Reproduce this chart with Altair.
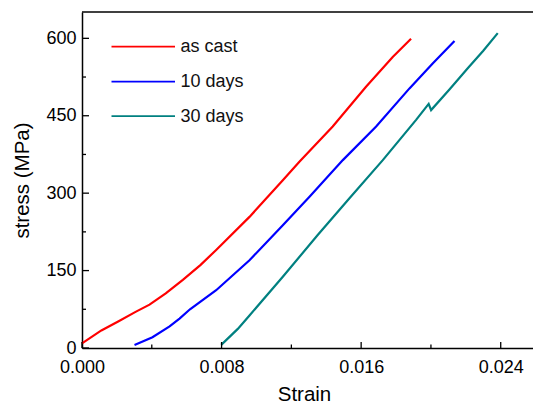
import altair as alt
import pandas as pd

# ---- data ----
series_names = ["as cast", "10 days", "30 days"]
series_colors = ["#FF0000", "#0000FF", "#008080"]

ascast_strain = [0.0, 0.00111, 0.00210, 0.00307, 0.00387, 0.00480, 0.00578, 0.00680,
                 0.00769, 0.00960, 0.01151, 0.01246, 0.01437, 0.01628, 0.01781, 0.01886]
ascast_stress = [9, 34, 52, 70, 84, 106, 132, 161,
                 190, 254, 325, 361, 429, 506, 564, 599]

d10_strain = [0.00301, 0.00404, 0.00502, 0.00559, 0.00619, 0.00769, 0.00960, 0.01151,
              0.01304, 0.01495, 0.01686, 0.01877, 0.02010, 0.02135]
d10_stress = [6, 21, 42, 57, 75, 112, 170, 238,
              293, 364, 429, 503, 551, 595]

d30_strain = [0.00798, 0.00893, 0.00960, 0.01151, 0.01351, 0.01533, 0.01724, 0.01915,
              0.01987, 0.02001, 0.02106, 0.02211, 0.02300, 0.02383]
d30_stress = [6, 37, 63, 138, 219, 290, 364, 442,
              473, 461, 501, 542, 576, 610]

x_major = [0.0, 0.008, 0.016, 0.024]
x_minor = [0.004, 0.012, 0.020]
y_major = [0, 150, 300, 450, 600]
y_minor = [75, 225, 375, 525]

# ---- layout constants ----
W, H = 451, 336
FONT = "Liberation Sans"
XDOM = [0, 0.02585]
YDOM = [0, 651]

rows = []
for name, xs, ys in [("as cast", ascast_strain, ascast_stress),
                     ("10 days", d10_strain, d10_stress),
                     ("30 days", d30_strain, d30_stress)]:
    for i, (a, b) in enumerate(zip(xs, ys)):
        rows.append({"series": name, "strain": a, "stress": b, "order": i})
df = pd.DataFrame(rows)

xscale = alt.Scale(domain=XDOM, nice=False, zero=False)
yscale = alt.Scale(domain=YDOM, nice=False, zero=False)

xaxis = alt.Axis(values=x_major, format=".3f", title="Strain",
                 ticks=False, tickSize=0, grid=False, domain=True,
                 domainColor="black", domainWidth=1.5,
                 labelFont=FONT, labelFontSize=18, labelColor="black",
                 labelPadding=10, labelFlush=False,
                 titleFont=FONT, titleFontSize=20.5, titleFontWeight="normal",
                 titleColor="black", titleX=222, titleY=52,
                 titleBaseline="alphabetic", titleAlign="center")
yaxis = alt.Axis(values=y_major, title="stress (MPa)",
                 ticks=False, tickSize=0, grid=False, domain=True,
                 domainColor="black", domainWidth=1.5,
                 labelFont=FONT, labelFontSize=18, labelColor="black",
                 labelPadding=6, labelFlush=False,
                 titleFont=FONT, titleFontSize=20.5, titleFontWeight="normal",
                 titleColor="black", titleX=-54, titleY=H / 2,
                 titleBaseline="alphabetic", titleAlign="center",
                 titleAngle=270)

lines = alt.Chart(df).mark_line(strokeWidth=2.2).encode(
    x=alt.X("strain:Q", scale=xscale, axis=xaxis),
    y=alt.Y("stress:Q", scale=yscale, axis=yaxis),
    color=alt.Color("series:N", scale=alt.Scale(domain=series_names, range=series_colors),
                    legend=None),
    detail="series:N",
    order="order:Q",
)

# inward ticks
def xticks(vals, length):
    return alt.Chart(pd.DataFrame({"strain": vals})).mark_rule(color="black", strokeWidth=1.3).encode(
        x=alt.X("strain:Q", scale=xscale, axis=xaxis),
        y=alt.value(H), y2=alt.value(H - length))

def yticks(vals, length):
    return alt.Chart(pd.DataFrame({"stress": vals})).mark_rule(color="black", strokeWidth=1.3).encode(
        y=alt.Y("stress:Q", scale=yscale, axis=yaxis),
        x=alt.value(0), x2=alt.value(length))

top_line = alt.Chart(pd.DataFrame({"a": [0]})).mark_rule(color="black", strokeWidth=1.5).encode(
    x=alt.value(0), x2=alt.value(W), y=alt.value(0))

# legend (manual)
leg_layers = []
leg_y = [34.7, 69.7, 104.2]
for name, col, yy in zip(series_names, series_colors, leg_y):
    ld = pd.DataFrame({"label": [name]})
    leg_layers.append(alt.Chart(ld).mark_rule(color=col, strokeWidth=1.8).encode(
        x=alt.value(29.5), x2=alt.value(93), y=alt.value(yy)))
    leg_layers.append(alt.Chart(ld).mark_text(align="left", baseline="middle", font=FONT,
                                              fontSize=18, color="#111111").encode(
        x=alt.value(98.5), y=alt.value(yy + 0.5), text="label:N"))

chart = alt.layer(
    lines,
    xticks(x_major, 6), xticks(x_minor, 3.5),
    yticks(y_major, 7), yticks(y_minor, 4),
    top_line,
    *leg_layers,
).properties(
    width=W, height=H,
    autosize=alt.AutoSizeParams(type="none"),
    padding={"left": 82, "top": 12, "right": 0, "bottom": 55},
    background="white",
).configure_view(stroke=None)

chart.save("out.html", embed_options={"renderer": "svg", "actions": False})
